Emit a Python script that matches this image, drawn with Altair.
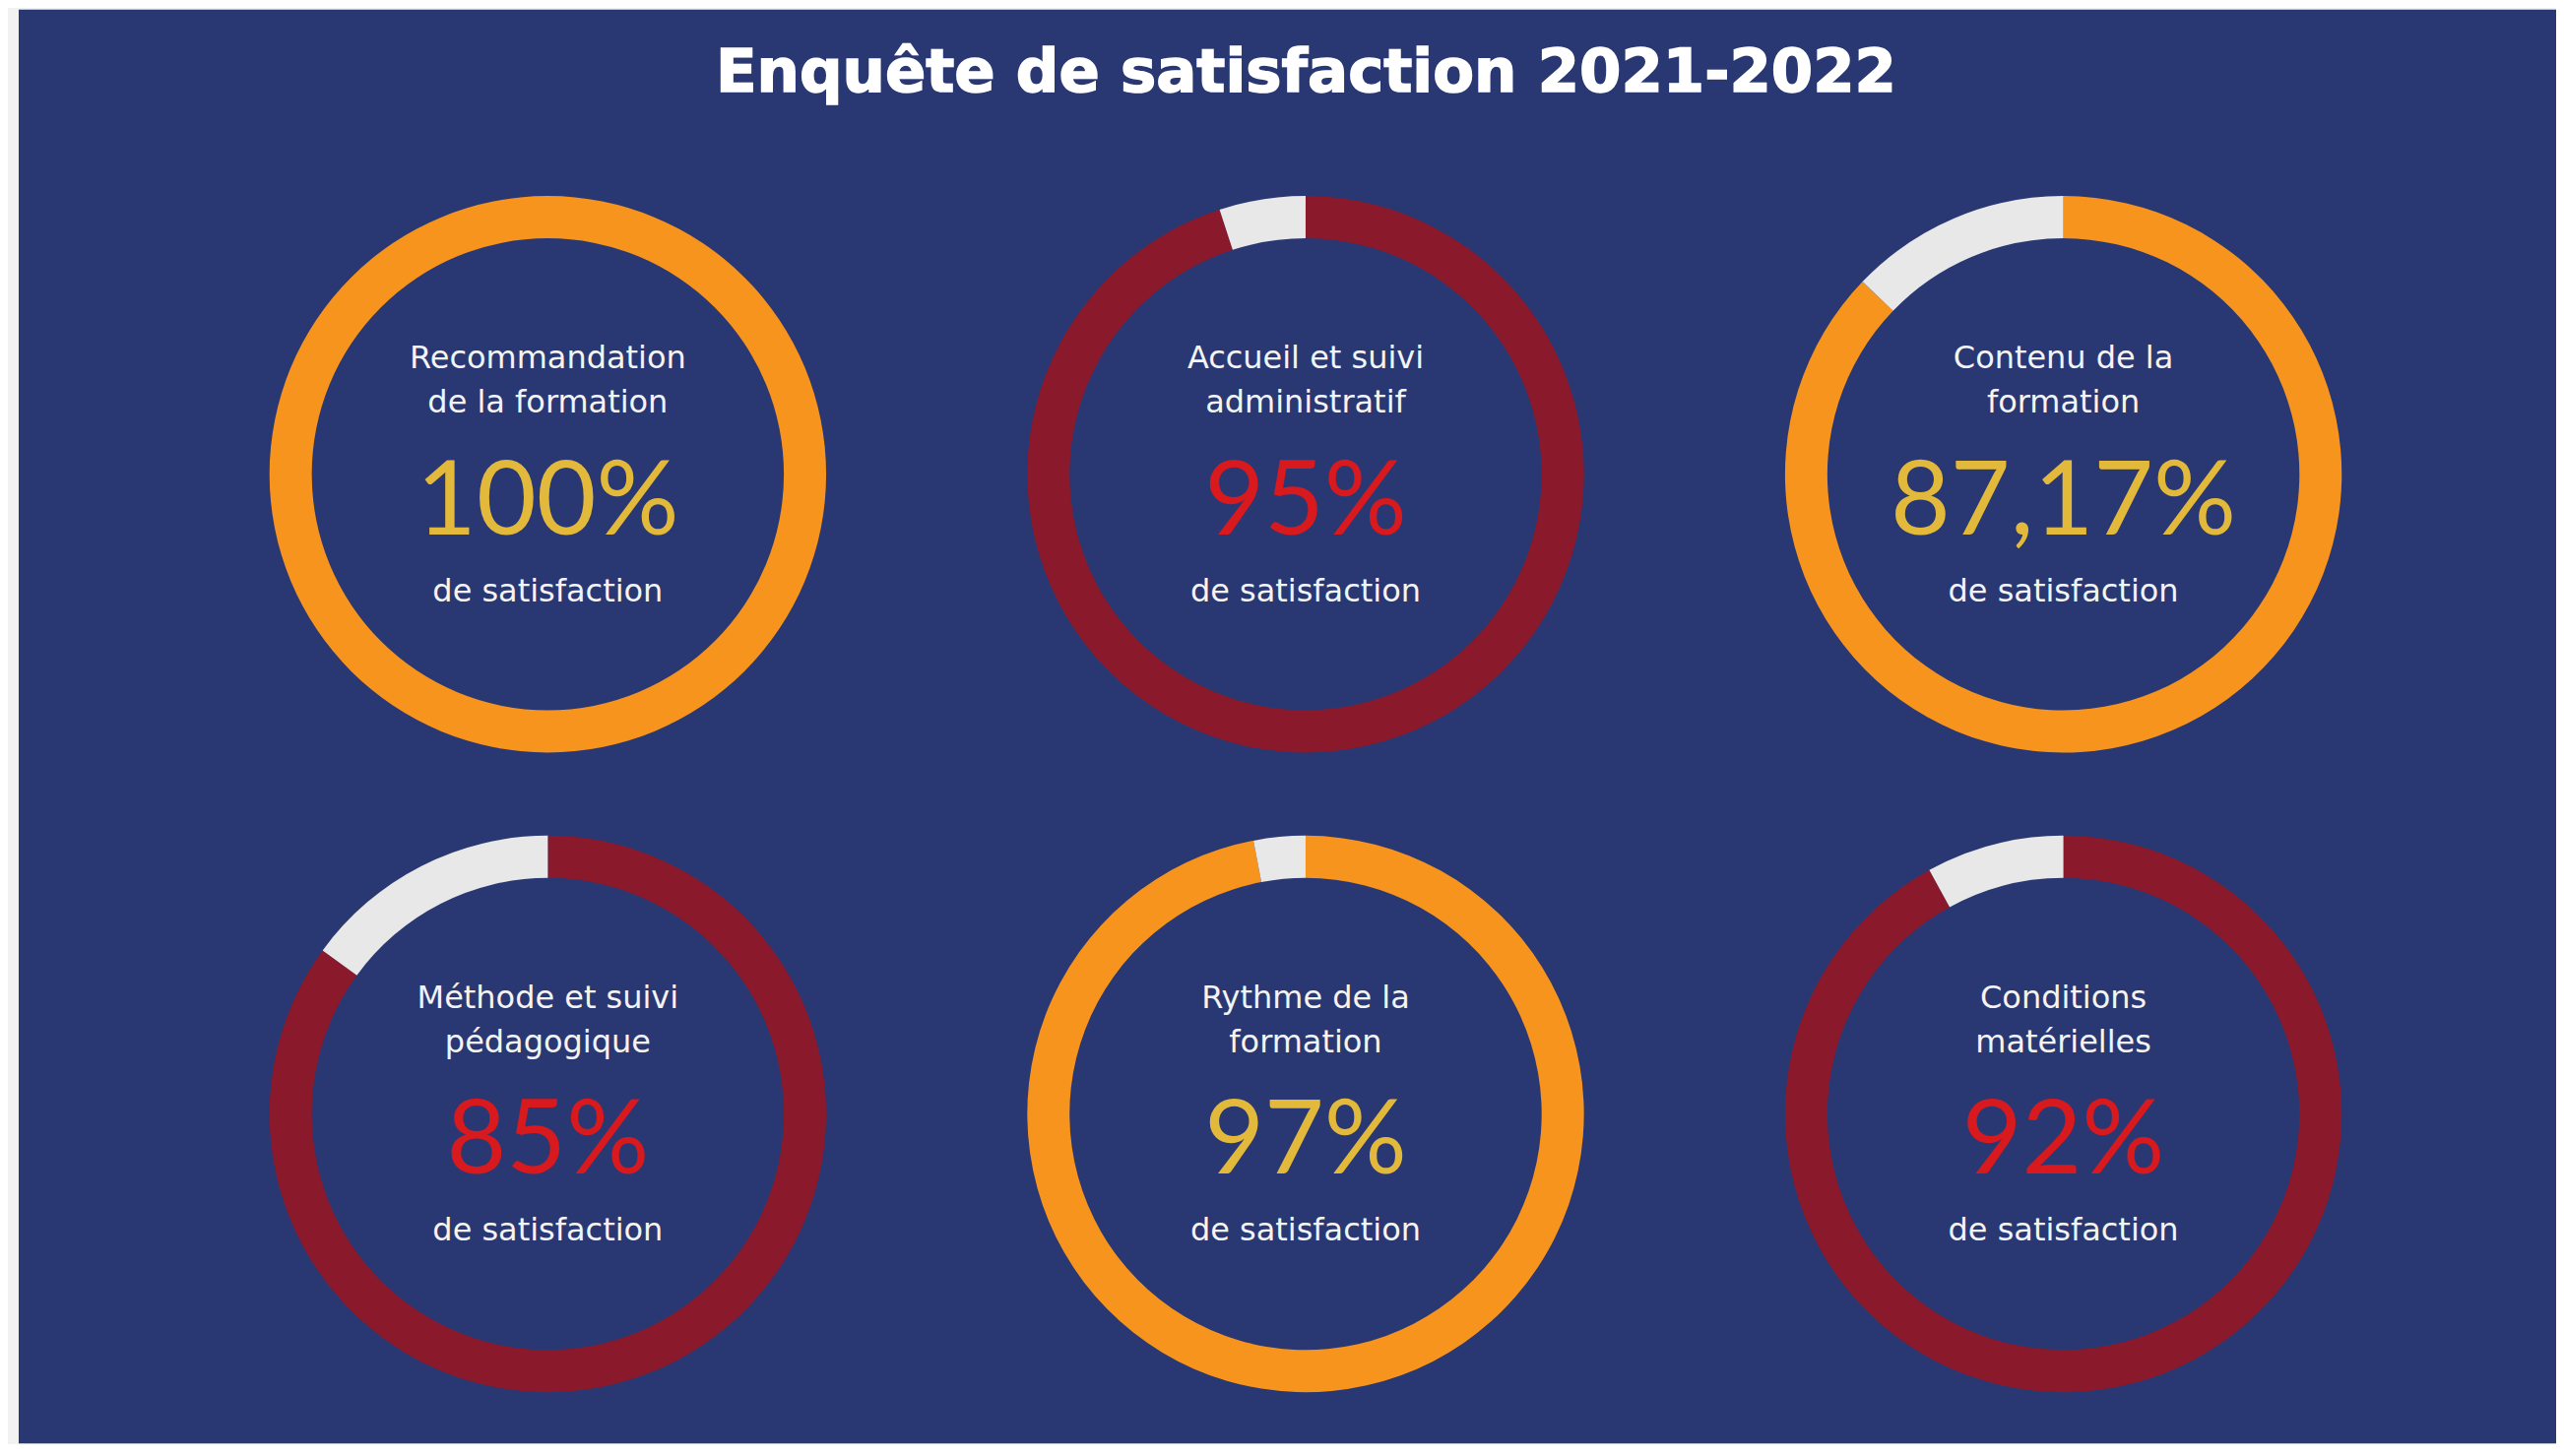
import altair as alt
import pandas as pd

# ---- data ----
title_text = "Enquête de satisfaction 2021-2022"
label_line1 = ["Recommandation", "Accueil et suivi", "Contenu de la",
               "Méthode et suivi", "Rythme de la", "Conditions"]
label_line2 = ["de la formation", "administratif", "formation",
               "pédagogique", "formation", "matérielles"]
values = [100, 95, 87.17, 85, 97, 92]
value_labels = ["100%", "95%", "87,17%", "85%", "97%", "92%"]
themes = ["orange", "red", "orange", "red", "orange", "red"]
cols = [0, 1, 2, 0, 1, 2]
rows = [0, 0, 0, 1, 1, 1]
footer = "de satisfaction"

# ---- styles ----
NAVY = "#293873"
RING = {"orange": "#f7941d", "red": "#8a1a2b", "grey": "#e8e8e8"}
PCT = {"orange": "#e2b93b", "red": "#d8191d"}
W, H = 2580, 1458

arcs = []
for i, v in enumerate(values):
    arcs.append(dict(idx=i, col=cols[i], row=rows[i], start=0, end=v, part=themes[i]))
    if v < 100:
        arcs.append(dict(idx=i, col=cols[i], row=rows[i], start=v, end=100, part="grey"))
arc_df = pd.DataFrame(arcs)

txt_df = pd.DataFrame(dict(col=cols, row=rows, l1=label_line1, l2=label_line2,
                           pct=value_labels, pcol=[PCT[t] for t in themes],
                           foot=[footer] * len(values)))

# centres at plot x = 538 + 770.5*col, plot y = 472.5 + 650.5*row
xs = alt.Scale(domain=[-538 / 770.5, (W - 538) / 770.5], range=[0, W])
ys = alt.Scale(domain=[-472.5 / 650.5, (H - 472.5) / 650.5], reverse=True)
X = alt.X("col:Q", scale=xs, axis=None)
Y = alt.Y("row:Q", scale=ys, axis=None)

rings = alt.Chart(arc_df).mark_arc(radius=283, radius2=240).encode(
    x=X, y=Y,
    theta=alt.Theta("start:Q", scale=alt.Scale(domain=[0, 100])),
    theta2="end:Q",
    color=alt.Color("part:N", scale=alt.Scale(domain=list(RING.keys()),
                                              range=list(RING.values())), legend=None),
)

base = alt.Chart(txt_df).encode(x=X, y=Y)
lab_style = dict(font="DejaVu Sans", fontSize=32, color="#f4f4f4",
                 align="center", baseline="alphabetic")
line1 = base.mark_text(dy=-108, **lab_style).encode(text="l1:N")
line2 = base.mark_text(dy=-63, **lab_style).encode(text="l2:N")
foot = base.mark_text(dy=129, **lab_style).encode(text="foot:N")
pct = base.mark_text(dy=61, font="Lato", fontWeight=400, fontSize=105,
                     align="center", baseline="alphabetic").encode(
    text="pct:N", color=alt.Color("pcol:N", scale=None))

title = alt.Chart(pd.DataFrame({"t": [title_text]})).mark_text(
    font="DejaVu Sans", fontWeight="bold", fontSize=61, color="white",
    stroke="white", strokeWidth=1.5,
    align="center", baseline="alphabetic").encode(
    x=alt.value(1309), y=alt.value(83), text="t:N")

chart = alt.layer(rings, line1, line2, pct, foot, title).properties(
    width=W, height=H,
    autosize=alt.AutoSizeParams(type="none"),
    padding={"left": 11, "top": 1, "right": 0, "bottom": 0},
    background="#f2f2f2",
).configure_view(fill=NAVY, stroke=None)

chart.save("out.html", embed_options={"renderer": "svg", "actions": False})
